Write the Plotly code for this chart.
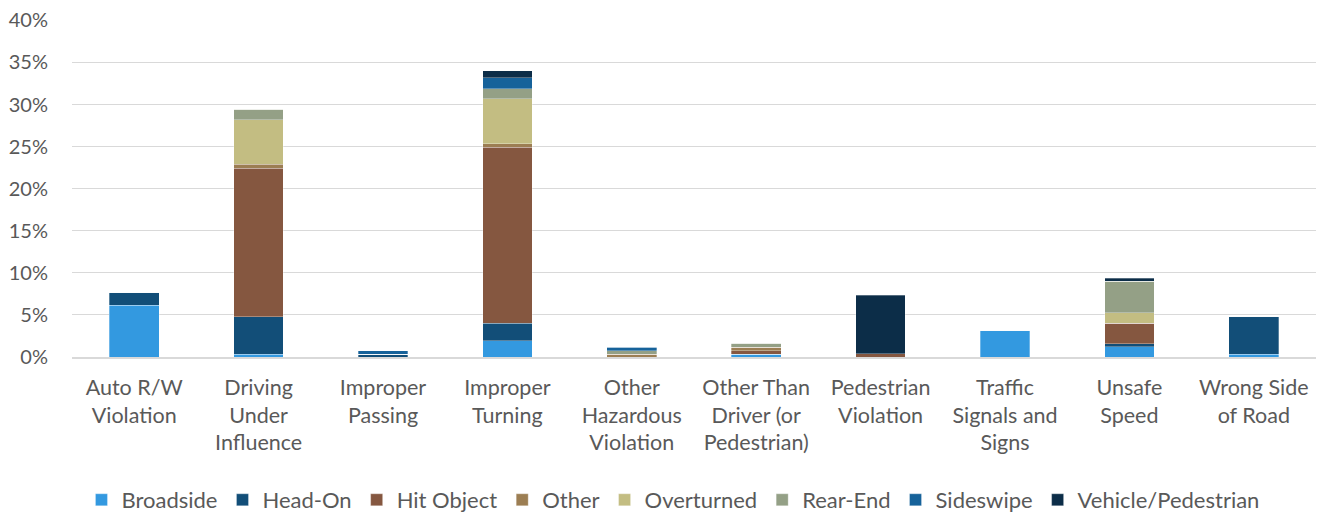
import plotly.graph_objects as go

categories = [
    "Auto R/W<br>Violation",
    "Driving<br>Under<br>Influence",
    "Improper<br>Passing",
    "Improper<br>Turning",
    "Other<br>Hazardous<br>Violation",
    "Other Than<br>Driver (or<br>Pedestrian)",
    "Pedestrian<br>Violation",
    "Traffic<br>Signals and<br>Signs",
    "Unsafe<br>Speed",
    "Wrong Side<br>of Road",
]

broadside = [6.15, 0.35, 0.0, 1.95, 0.0, 0.35, 0.0, 3.2, 1.2, 0.35]
head_on = [1.55, 4.45, 0.3, 2.05, 0.0, 0.0, 0.0, 0.0, 0.4, 4.5]
hit_object = [0.0, 17.65, 0.0, 20.95, 0.0, 0.4, 0.4, 0.0, 2.4, 0.0]
other = [0.0, 0.45, 0.0, 0.4, 0.35, 0.4, 0.0, 0.0, 0.0, 0.0]
overturned = [0.0, 5.3, 0.0, 5.35, 0.0, 0.0, 0.0, 0.0, 1.25, 0.0]
rear_end = [0.0, 1.25, 0.0, 1.2, 0.4, 0.5, 0.0, 0.0, 3.75, 0.0]
sideswipe = [0.0, 0.0, 0.45, 1.3, 0.4, 0.0, 0.0, 0.0, 0.0, 0.0]
vehicle_ped = [0.0, 0.0, 0.0, 0.8, 0.0, 0.0, 6.95, 0.0, 0.35, 0.0]

series = [
    ("Broadside", broadside, "#3399E0"),
    ("Head-On", head_on, "#124E78"),
    ("Hit Object", hit_object, "#855740"),
    ("Other", other, "#9C7E53"),
    ("Overturned", overturned, "#C3BD82"),
    ("Rear-End", rear_end, "#94A086"),
    ("Sideswipe", sideswipe, "#16629A"),
    ("Vehicle/Pedestrian", vehicle_ped, "#0C2D48"),
]

y_ticks = [0, 5, 10, 15, 20, 25, 30, 35, 40]
y_tick_labels = [f"{v}%" for v in y_ticks]

fig = go.Figure()
for name, vals, color in series:
    fig.add_trace(go.Bar(
        name=name, x=categories, y=vals,
        marker=dict(color=color, line=dict(color="rgba(255,255,255,0.5)", width=0.6)),
    ))

W, H = 1322, 504
font_family = "Lato, 'Open Sans', sans-serif"
fig.update_layout(
    barmode="stack",
    bargap=0.6,
    width=W, height=H,
    margin=dict(l=64, r=14, t=12, b=155),
    plot_bgcolor="white", paper_bgcolor="white",
    font=dict(family=font_family, size=21, color="#595959"),
    xaxis=dict(showgrid=False, showline=True, linecolor="#D9D9D9", linewidth=1.5,
               ticks="", tickfont=dict(size=21.5), automargin=False,
               ticklabelstandoff=10),
    yaxis=dict(range=[0, 40.05], tickvals=y_ticks, ticktext=y_tick_labels,
               showgrid=True, gridcolor="#D9D9D9", gridwidth=1.2,
               zeroline=False, showline=False, ticks="", tickfont=dict(size=20),
               automargin=False, ticklabelstandoff=23, ticklabeloverflow="allow"),
    legend=dict(orientation="h", x=0.503, xanchor="center", xref="container",
                y=12 / H, yanchor="middle", yref="container",
                font=dict(size=22), itemwidth=30, traceorder="normal"),
)

fig.write_html("out.html")
